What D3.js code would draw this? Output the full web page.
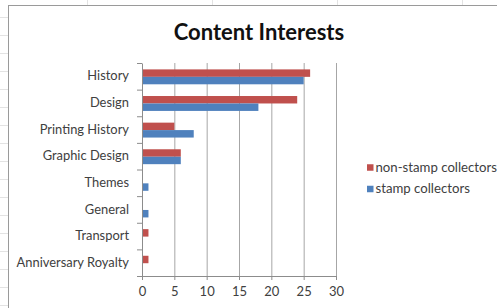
<!DOCTYPE html>
<html>
<head>
<meta charset="utf-8">
<script src="https://cdn.jsdelivr.net/npm/d3@7"></script>
<style>
  body { margin: 0; background: #fff; }
  text { font-family: Lato, "Open Sans", sans-serif; fill: #404040; }
</style>
</head>
<body>
<script>
  const categories = [
    'History', 'Design', 'Printing History', 'Graphic Design',
    'Themes', 'General', 'Transport', 'Anniversary Royalty'
  ];
  const series = ['non-stamp collectors', 'stamp collectors'];
  const nonStamp = [26, 24, 5, 6, 0, 0, 1, 1];
  const stamp = [25, 18, 8, 6, 1, 1, 0, 0];
  const xTicks = [0, 5, 10, 15, 20, 25, 30];
  const colors = ['#c0504d', '#4f81bd'];

  const width = 497;
  const height = 308;
  const plot = { left: 142, right: 336, top: 63, bottom: 276 };

  const svg = d3.select('body')
    .append('svg')
    .attr('width', width)
    .attr('height', height);

  // spreadsheet bits behind the chart
  const sheet = svg.append('g').attr('stroke', '#e3e3e3');
  sheet.selectAll('.row')
    .data(d3.range(17, 308, 18))
    .join('line')
    .attr('x1', 0).attr('x2', 8)
    .attr('y1', (d) => d + 0.5).attr('y2', (d) => d + 0.5);
  sheet.selectAll('.col')
    .data([87, 212, 337, 462])
    .join('line')
    .attr('x1', (d) => d + 0.5).attr('x2', (d) => d + 0.5)
    .attr('y1', 0).attr('y2', 5);

  svg.append('rect')
    .attr('x', 8.5).attr('y', 5.5)
    .attr('width', 600).attr('height', 400)
    .attr('fill', '#fff')
    .attr('stroke', '#9a9a9a');

  svg.append('text')
    .attr('x', 259).attr('y', 40)
    .attr('text-anchor', 'middle')
    .style('font-size', '22px')
    .style('font-weight', 'bold')
    .style('fill', '#111')
    .text('Content Interests');

  const data = categories.map((c, i) => ({
    category: c,
    values: [nonStamp[i], stamp[i]]
  }));

  const xScale = d3.scaleLinear()
    .domain([0, 30])
    .range([plot.left, plot.right]);

  const yScale = d3.scaleBand()
    .domain(categories)
    .range([plot.top, plot.bottom]);

  const ySub = d3.scaleBand()
    .domain(series)
    .range([yScale.bandwidth() * 0.24, yScale.bandwidth() * 0.8]);

  // vertical gridlines
  svg.append('g')
    .attr('transform', `translate(0, ${plot.bottom})`)
    .call(d3.axisBottom(xScale).tickValues(xTicks.slice(1))
      .tickSize(-(plot.bottom - plot.top)).tickFormat(''))
    .call((g) => g.select('.domain').remove())
    .call((g) => g.selectAll('line').attr('stroke', '#a6a6a6'));

  // bars
  svg.append('g')
    .selectAll('g')
    .data(data)
    .join('g')
    .attr('transform', (d) => `translate(0, ${yScale(d.category)})`)
    .selectAll('rect')
    .data((d) => d.values.map((v, j) => ({ key: series[j], value: v, j })))
    .join('rect')
    .attr('x', xScale(0))
    .attr('y', (d) => ySub(d.key))
    .attr('width', (d) => xScale(d.value) - xScale(0))
    .attr('height', ySub.bandwidth())
    .attr('fill', (d) => colors[d.j]);

  // x axis
  const xAxis = svg.append('g')
    .attr('transform', `translate(0, ${plot.bottom})`)
    .call(d3.axisBottom(xScale).tickValues(xTicks).tickSize(4).tickPadding(7));
  xAxis.selectAll('line, .domain').attr('stroke', '#8c8c8c');
  xAxis.selectAll('text').style('font-size', '13px').style('fill', '#404040');

  // y axis (ticks sit between categories)
  const yAxis = svg.append('g')
    .attr('transform', `translate(${plot.left}, 0)`)
    .call(d3.axisLeft(yScale).tickSize(0).tickPadding(13));
  yAxis.select('.domain').attr('stroke', '#8c8c8c');
  yAxis.selectAll('text').style('font-size', '12.9px').style('fill', '#404040');
  yAxis.selectAll('.sep')
    .data(categories.map((c) => yScale(c)).concat(plot.bottom))
    .join('line')
    .attr('class', 'sep')
    .attr('x1', -5).attr('x2', 0)
    .attr('y1', (d) => d + 0.5).attr('y2', (d) => d + 0.5)
    .attr('stroke', '#8c8c8c');

  // legend
  const legend = svg.append('g')
    .selectAll('g')
    .data(series)
    .join('g')
    .attr('transform', (d, i) => `translate(367, ${167.5 + i * 21.5})`);
  legend.append('rect')
    .attr('x', 0).attr('y', -3.25)
    .attr('width', 6.5).attr('height', 6.5)
    .attr('fill', (d, i) => colors[i]);
  legend.append('text')
    .attr('x', 8.5).attr('y', 4.3)
    .style('font-size', '13.2px')
    .style('fill', '#404040')
    .text((d) => d);
</script>
</body>
</html>
